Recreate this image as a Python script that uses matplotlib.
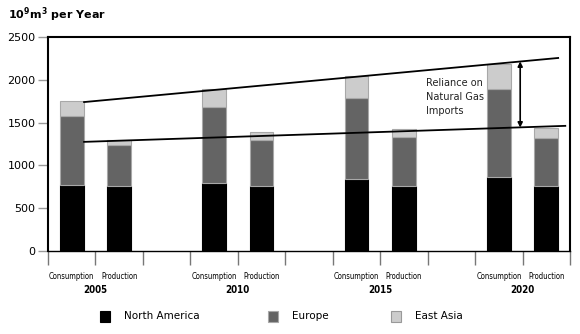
"""
天然气消费与生产对比图 (堆叠柱状图)
"""

import numpy as np
import matplotlib.pyplot as plt
from matplotlib.patches import Rectangle

plt.rcParams['font.family'] = ['DejaVu Sans']

# 数据
years = ['2005', '2010', '2015', '2020']
bar_labels = ['Consumption', 'Production'] * 4
bar_pos = [0.5, 1.5, 3.5, 4.5, 6.5, 7.5, 9.5, 10.5]
north_america = [770, 760, 800, 760, 840, 760, 860, 760]
europe = [810, 480, 880, 540, 950, 570, 1030, 560]
east_asia = [170, 60, 210, 90, 250, 100, 300, 120]

# 趋势线 (x, y)
cons_line_x = [0.76, 10.75]
cons_line_y = [1740, 2255]
prod_line_x = [0.76, 10.9]
prod_line_y = [1275, 1462]

fig = plt.figure(figsize=(5.8, 3.34), dpi=100)
ax = fig.add_axes([0.0828, 0.2485, 0.9, 0.6407])

na = np.array(north_america)
eu = np.array(europe)
ea = np.array(east_asia)
w = 0.5
ax.bar(bar_pos, na, width=w, color='#000000', edgecolor='#000000', linewidth=0.8)
ax.bar(bar_pos, eu, width=w, bottom=na, color='#646464', edgecolor='#a8a8a8', linewidth=0.8)
ax.bar(bar_pos, ea, width=w, bottom=na + eu, color='#cccccc', edgecolor='#a8a8a8', linewidth=0.8)

ax.plot(cons_line_x, cons_line_y, color='black', linewidth=1.3)
ax.plot(prod_line_x, prod_line_y, color='black', linewidth=1.3)

ax.annotate('', xy=(9.95, 2215), xytext=(9.95, 1442),
            arrowprops=dict(arrowstyle='<|-|>', color='black', lw=1.2,
                            mutation_scale=7, shrinkA=0, shrinkB=0))
ax.text(7.97, 1800, 'Reliance on\nNatural Gas\nImports', fontsize=7,
        ha='left', va='center', linespacing=1.55, color='#222222')

ax.set_xlim(0, 11)
ax.set_ylim(0, 2500)
ax.set_yticks([0, 500, 1000, 1500, 2000, 2500])
ax.tick_params(axis='y', length=7, width=1, color='#999999', labelsize=8, pad=2)
ax.set_xticks(range(12))
ax.set_xticklabels([])
ax.tick_params(axis='x', length=10, width=1, color='#777777', direction='out')

for s in ['left', 'right', 'top']:
    ax.spines[s].set_linewidth(1.5)
ax.spines['bottom'].set_linewidth(1.0)

# 类别标签 (窄体)
for x, lab in zip(bar_pos, bar_labels):
    ax.text(x, -300, lab, ha='center', va='center', fontsize=5.5,
            stretch='condensed', clip_on=False)
for i, yr in enumerate(years):
    ax.text(bar_pos[2 * i] + 0.5, -450, yr, ha='center', va='center', fontsize=7,
            fontweight='bold', stretch='condensed', clip_on=False)

# 标题
fig.text(0.014, 0.955, r'10$^{\mathbf{9}}$m$^{\mathbf{3}}$ per Year', fontsize=8,
         fontweight='bold', ha='left', va='center')

# 图例
legend_items = [('North America', '#000000', '#000000', 100),
                ('Europe', '#646464', '#a8a8a8', 268),
                ('East Asia', '#cccccc', '#999999', 391)]
for name, fc, ec, px in legend_items:
    fig.patches.append(Rectangle((px / 580, 1 - 322 / 334), 10 / 580, 11 / 334,
                                 facecolor=fc, edgecolor=ec, linewidth=0.8,
                                 transform=fig.transFigure, figure=fig))
    fig.text((px + 24) / 580, 1 - 316 / 334, name, fontsize=7.5, ha='left', va='center')

plt.savefig('out.png', dpi=100)
plt.close()
